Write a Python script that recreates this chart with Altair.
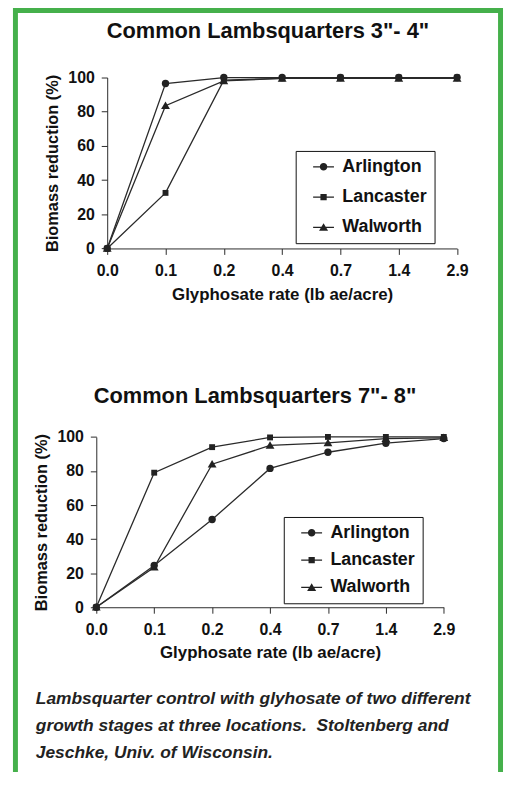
import altair as alt
import pandas as pd

rates = ["0.0", "0.1", "0.2", "0.4", "0.7", "1.4", "2.9"]
sites = ["Arlington", "Lancaster", "Walworth"]

top_arlington = [0, 96.5, 100, 100, 100, 100, 100]
top_lancaster = [0, 32.5, 98.5, 99.5, 100, 100, 100]
top_walworth = [0, 83.5, 98, 99.5, 99.5, 99.5, 99.5]

bot_arlington = [0, 24.5, 51.5, 81.5, 91, 96.3, 99]
bot_lancaster = [0, 79, 94, 99.7, 100, 100, 100]
bot_walworth = [0, 23.5, 84, 95, 96.5, 99, 99.5]

y_ticks = [0, 20, 40, 60, 80, 100]

title_top = 'Common Lambsquarters 3"- 4"'
title_bot = 'Common Lambsquarters 7"- 8"'
x_title = "Glyphosate rate (lb ae/acre)"
y_title = "Biomass reduction (%)"
caption = ("Lambsquarter control with glyhosate of two different\n"
           "growth stages at three locations.\u00a0 Stoltenberg and\n"
           "Jeschke, Univ. of Wisconsin.")

FONT = "Liberation Sans, Arial, sans-serif"
W, H = 500, 764
INK = "#2a2a2a"
GREEN = "#45b04b"


def long_df(series):
    rows = []
    for site, vals in zip(sites, series):
        for r, v in zip(rates, vals):
            rows.append({"rate": r, "site": site, "value": v})
    return pd.DataFrame(rows)


df_top = long_df([top_arlington, top_lancaster, top_walworth])
df_bot = long_df([bot_arlington, bot_lancaster, bot_walworth])

plot_shapes = [
    "circle",
    "M-0.8,-0.8H0.8V0.8H-0.8Z",
    "M0,-1.15L1.2,0.9H-1.2Z",
]
# legend glyph: thin bar (the line) plus the filled marker
BAR = "M0.36,-0.14H5.15V0.14H0.36Z"
legend_shapes = [
    BAR + "M1.9,0A0.86,0.86,0,1,1,3.62,0A0.86,0.86,0,1,1,1.9,0Z",
    BAR + "M2.04,-0.72H3.48V0.72H2.04Z",
    BAR + "M2.76,-0.95L3.8,0.8H1.72Z",
]


def panel(df, xr, yr, lx, ly, row_pad):
    xscale = alt.Scale(type="point", domain=rates, range=xr, padding=0)
    yscale = alt.Scale(domain=[0, 100], range=yr, nice=False, zero=False)
    x_axis = alt.Axis(
        title=x_title, orient="bottom", offset=yr[0] - H, labelAngle=0,
        labelFont=FONT, labelFontSize=16, labelFontWeight="bold", labelColor="#111",
        titleFont=FONT, titleFontSize=17, titleFontWeight="bold", titleColor="#111",
        tickSize=6, labelPadding=8, titlePadding=8, domainColor=INK, tickColor=INK,
        grid=False,
    )
    y_axis = alt.Axis(
        title=y_title, orient="left", offset=-xr[0], values=y_ticks,
        labelFont=FONT, labelFontSize=16, labelFontWeight="bold", labelColor="#111",
        titleFont=FONT, titleFontSize=16.5, titleFontWeight="bold", titleColor="#111",
        tickSize=6, labelPadding=7, titlePadding=7, domainColor=INK, tickColor=INK,
        grid=False,
    )
    X = alt.X("rate:O", scale=xscale, axis=x_axis)
    Y = alt.Y("value:Q", scale=yscale, axis=y_axis)
    base = alt.Chart(df)
    lines = base.mark_line(color=INK, strokeWidth=1.3).encode(
        x=X, y=Y, detail="site:N",
    )
    points = base.mark_point(filled=True, color="#222", size=55, opacity=1).encode(
        x=X, y=Y,
        shape=alt.Shape("site:N", scale=alt.Scale(domain=sites, range=plot_shapes), legend=None),
        order=alt.Order("site:N", sort="descending"),
    )
    leg = base.mark_point(filled=True, color="#222", opacity=0).encode(
        x=X, y=Y,
        shape=alt.Shape(
            "site:N",
            scale=alt.Scale(domain=sites, range=legend_shapes),
            legend=alt.Legend(
                title=None, orient="none", legendX=lx, legendY=ly,
                strokeColor="#111", fillColor="white", padding=7,
                labelFont=FONT, labelFontSize=18, labelFontWeight="bold", labelColor="#111",
                labelOffset=22, rowPadding=row_pad, symbolSize=77,
                symbolFillColor="#222", symbolOpacity=1,
            ),
        ),
    )
    return alt.layer(lines, points, leg).resolve_scale(shape="independent")


top = panel(df_top, [100, 452.7], [239.3, 67], 290, 141, 12.5)
bot = panel(df_bot, [89, 439.3], [601, 429.3], 278, 510, 9.5)

one = alt.Data(values=[{"k": 1}])

frame = alt.Chart(one).mark_rect(fill=None, stroke=GREEN, strokeWidth=5).encode(
    x=alt.value(7.5), x2=alt.value(496.5), y=alt.value(-0.5), y2=alt.value(H + 40)
)

t1 = alt.Chart(one).mark_text(
    font=FONT, fontSize=22, fontWeight="bold", color="#111", align="center", baseline="middle"
).encode(x=alt.value(262), y=alt.value(20), text=alt.value(title_top))

t2 = alt.Chart(one).mark_text(
    font=FONT, fontSize=22, fontWeight="bold", color="#111", align="center", baseline="middle"
).encode(x=alt.value(249), y=alt.value(388), text=alt.value(title_bot))

cap = alt.Chart(one).mark_text(
    font=FONT, fontSize=17.5, fontWeight="bold", fontStyle="italic", color="#222",
    align="left", baseline="top", lineBreak="\n", lineHeight=27,
).encode(x=alt.value(28), y=alt.value(685), text=alt.value(caption))

chart = alt.layer(frame, top, bot, t1, t2, cap).resolve_scale(
    x="independent", y="independent", shape="independent"
).properties(
    width=W, height=H, padding=0, autosize=alt.AutoSizeParams(type="none")
).configure_view(stroke=None)

chart.save("out.html", embed_options={"renderer": "svg", "actions": False})
